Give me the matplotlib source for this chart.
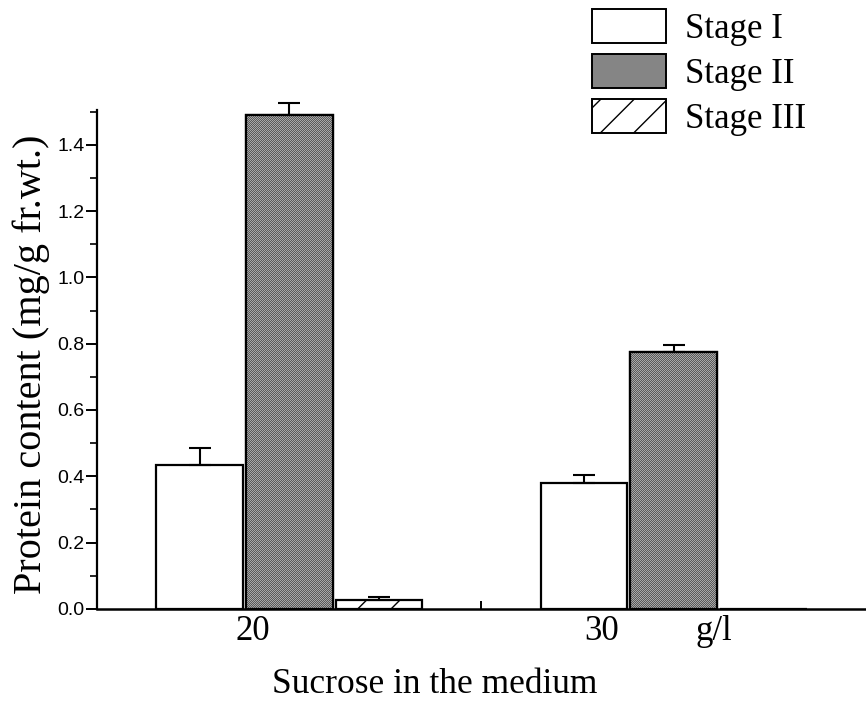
import matplotlib
matplotlib.use("Agg")
import matplotlib.pyplot as plt
from matplotlib.patches import Patch
from matplotlib.ticker import MultipleLocator
import numpy as np

# Protein content (mg/g fresh weight) by sucrose concentration and stage
sucrose = ["20", "30"]
stages = ["Stage I", "Stage II", "Stage III"]
stage1 = [0.435, 0.38]
stage2 = [1.49, 0.775]
stage3 = [0.027, 0.0]
err1 = [0.05, 0.025]
err2 = [0.035, 0.022]
err3 = [0.008, 0.0]
unit_label = "g/l"

serif = ["Liberation Serif", "DejaVu Serif"]
narrow = ["Liberation Sans Narrow", "Liberation Sans", "DejaVu Sans"]

W, H = 866, 703
fig = plt.figure(figsize=(W / 100, H / 100), dpi=100)
ax_rect = [0.112, 0.134, 0.888, 0.710]
ax = fig.add_axes(ax_rect)

group_x = np.arange(len(sucrose))
offset = 0.233
width = 0.225

fills = ["white", "#858585", "white"]
hatches = [None, None, "/"]
values = [stage1, stage2, stage3]
errors = [err1, err2, err3]


def halftone(h, w, dark="#5a5a5a", light="#a8a8a8"):
    """Pixel checkerboard that reads as a printed grey screen."""
    d = np.array(matplotlib.colors.to_rgb(dark))
    l = np.array(matplotlib.colors.to_rgb(light))
    yy, xx = np.mgrid[0:h, 0:w]
    mask = ((xx + yy) % 2 == 0)[..., None]
    return np.where(mask, d, l)


ax.set_xlim(-0.5, 1.5)
ax.set_ylim(0, 1.506)

plt.rcParams["hatch.linewidth"] = 1.0
ax_w = int(round(ax_rect[2] * W))
ax_h = int(round(ax_rect[3] * H))
tex = halftone(ax_h, ax_w)

for i, (vals, errs) in enumerate(zip(values, errors)):
    xs = group_x + (i - 1) * offset
    bars = ax.bar(xs, vals, width=width, facecolor=fills[i], hatch=hatches[i],
                  edgecolor="black", linewidth=1.6, zorder=2)
    if i == 1:
        for b in bars:
            im = ax.imshow(tex, extent=(-0.5, 1.5, 0, 1.506), aspect="auto",
                           interpolation="nearest", origin="lower", zorder=2.2)
            im.set_clip_path(b)
        # outline drawn again on top of the screen texture
        ax.bar(xs, vals, width=width, facecolor="none", edgecolor="black",
               linewidth=1.6, zorder=2.4)
    for x, v, e in zip(xs, vals, errs):
        if v > 0 and e > 0:
            ax.errorbar(x, v, yerr=[[0], [e]], fmt="none", ecolor="black",
                        elinewidth=1.5, capsize=8, capthick=1.5, zorder=3,
                        clip_on=False)

ax.set_xlim(-0.5, 1.5)
ax.set_ylim(0, 1.506)

for side in ("top", "right"):
    ax.spines[side].set_visible(False)
ax.spines["left"].set_linewidth(1.6)
ax.spines["bottom"].set_linewidth(1.8)

ax.yaxis.set_minor_locator(MultipleLocator(0.1))
ticks = np.arange(0, 1.41, 0.2)
ax.set_yticks(ticks)
ax.set_yticklabels([f"{v:.1f}" for v in ticks], family=narrow)
ax.tick_params(axis="y", which="major", direction="out", length=8, width=1.4,
               labelsize=14, pad=1)
ax.tick_params(axis="y", which="minor", direction="out", length=5, width=1.2)

# single divider tick between the two sucrose groups
ax.set_xticks([0.5])
ax.set_xticklabels([""])
ax.tick_params(axis="x", direction="in", length=6, width=1.4)

# group labels and unit beneath the axis
trans = ax.get_xaxis_transform()
label_x = [-0.096, 0.813]
for lx, lab in zip(label_x, sucrose):
    ax.text(lx, -0.012, lab, transform=trans, ha="center", va="top",
            fontsize=25, family=serif)
ax.text(1.105, -0.012, unit_label, transform=trans, ha="center", va="top",
        fontsize=25, family=serif)

fig.text(0.502, 0.027, "Sucrose in the medium", ha="center", va="center",
         fontsize=25.5, family=serif)
fig.text(0.036, 0.482, "Protein content (mg/g fr.wt.)", ha="center",
         va="center", rotation=90, fontsize=29, family=serif)

handles = [Patch(facecolor=f, hatch=h, edgecolor="black", linewidth=1.4)
           for f, h in zip(fills, hatches)]
leg = fig.legend(handles, stages, loc="upper left",
                 bbox_to_anchor=(592 / W, 1 - 9 / H),
                 frameon=False, prop={"family": serif, "size": 25},
                 handlelength=2.13, handleheight=1.12, handletextpad=0.55,
                 labelspacing=0.24, borderaxespad=0, borderpad=0)

# give the Stage II legend swatch the same grey screen as its bars
fig.canvas.draw()
sw = leg.legend_handles[1].get_window_extent()
x0, y0 = int(np.ceil(sw.x0 + 1)), int(np.ceil(sw.y0 + 1))
x1, y1 = int(np.floor(sw.x1 - 1)), int(np.floor(sw.y1 - 1))
fig.figimage(halftone(y1 - y0, x1 - x0), xo=x0, yo=y0, zorder=5)

fig.savefig("out.png", dpi=100)
